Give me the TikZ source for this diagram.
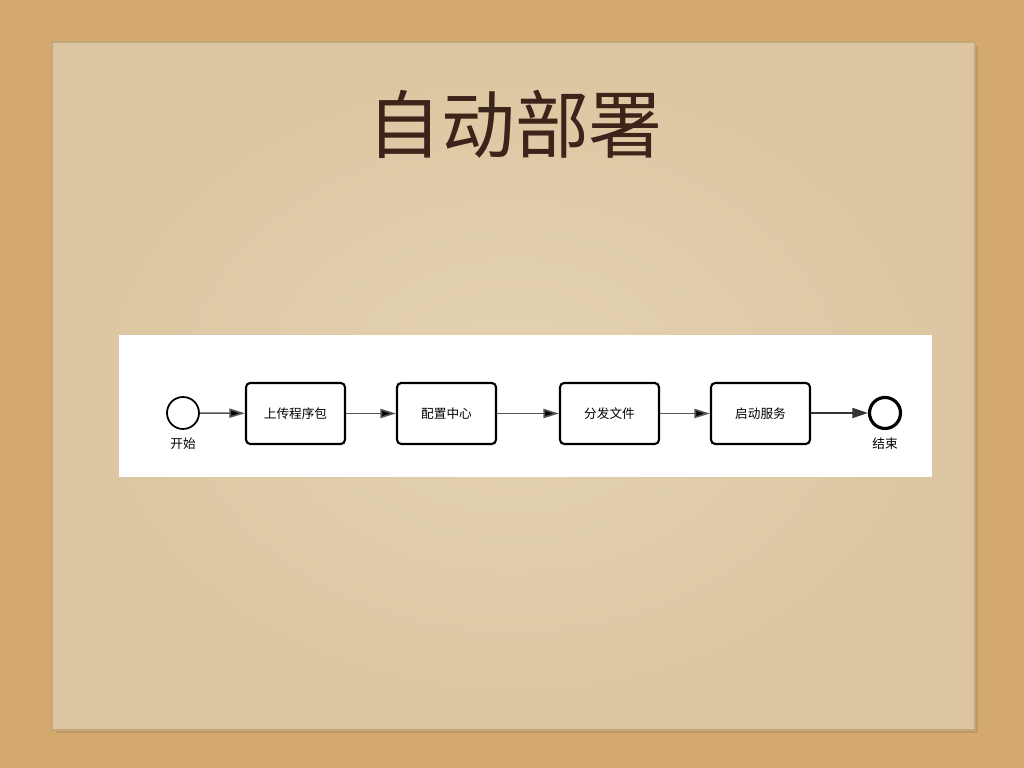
\documentclass[tikz,border=0pt]{standalone}
\usepackage{fontspec}
\newfontfamily\cjk{Noto Sans CJK SC}
\usetikzlibrary{arrows.meta}
\definecolor{desk}{HTML}{D3A96D}
\definecolor{paper}{HTML}{DCC6A1}
\definecolor{paperlight}{HTML}{E4D2B2}
\definecolor{paperedge}{HTML}{B8925E}
\definecolor{titlebrown}{HTML}{3B2419}
\definecolor{flowgray}{HTML}{555555}
\tikzset{
  px/.style={x=0.01cm,y=-0.01cm},
  task/.style={draw=black,line width=0.6pt,rounded corners=1.2pt,fill=white,
    minimum width=99*0.01cm,minimum height=61*0.01cm,inner sep=0pt,
    font=\cjk\fontsize{3.6}{4}\selectfont},
  startev/.style={circle,draw=black,line width=0.5pt,fill=white,minimum size=32*0.01cm,inner sep=0pt},
  endev/.style={circle,draw=black,line width=0.9pt,fill=white,minimum size=31*0.01cm,inner sep=0pt},
  evlabel/.style={font=\cjk\fontsize{3.6}{4}\selectfont,inner sep=0pt},
  flow/.style={draw=flowgray,line width=0.45pt,-{Triangle[length=4.4pt,width=2.6pt,fill=black]}},
  flowdark/.style={draw=black!80,line width=0.6pt,-{Triangle[length=4.4pt,width=2.8pt,fill=black!80]}},
}
\begin{document}
\begin{tikzpicture}[px]
\useasboundingbox (0,0) rectangle (1024,768);
\fill[desk] (0,0) rectangle (1024,768);
% paper shadow
\fill[paperedge!70!desk] (56,46) rectangle (978,733);
\shade[inner color=paperlight,outer color=paper] (52,42) rectangle (975,730);
\draw[paperedge!60!paper,line width=0.4pt] (52,42) rectangle (975,730);
% title
\node[font=\cjk\fontsize{21}{24}\selectfont,text=titlebrown] (title) at (515,124) {自动部署};
% white panel
\fill[white] (119,335) rectangle (932,477);
% flow
\node[startev] (s) at (183,413) {};
\node[evlabel,anchor=north] (sl) at (183,437) {开始};
\node[task] (t1) at (295.5,413.5) {上传程序包};
\node[task] (t2) at (446.5,413.5) {配置中心};
\node[task] (t3) at (609.5,413.5) {分发文件};
\node[task] (t4) at (760.5,413.5) {启动服务};
\node[endev] (e) at (885,413) {};
\node[evlabel,anchor=north] (el) at (885,437) {结束};
\draw[flow] (s) -- (t1);
\draw[flow] (t1) -- (t2);
\draw[flow] (t2) -- (t3);
\draw[flow] (t3) -- (t4);
\draw[flowdark] (t4.east |- e) -- (e);
\end{tikzpicture}
\end{document}
